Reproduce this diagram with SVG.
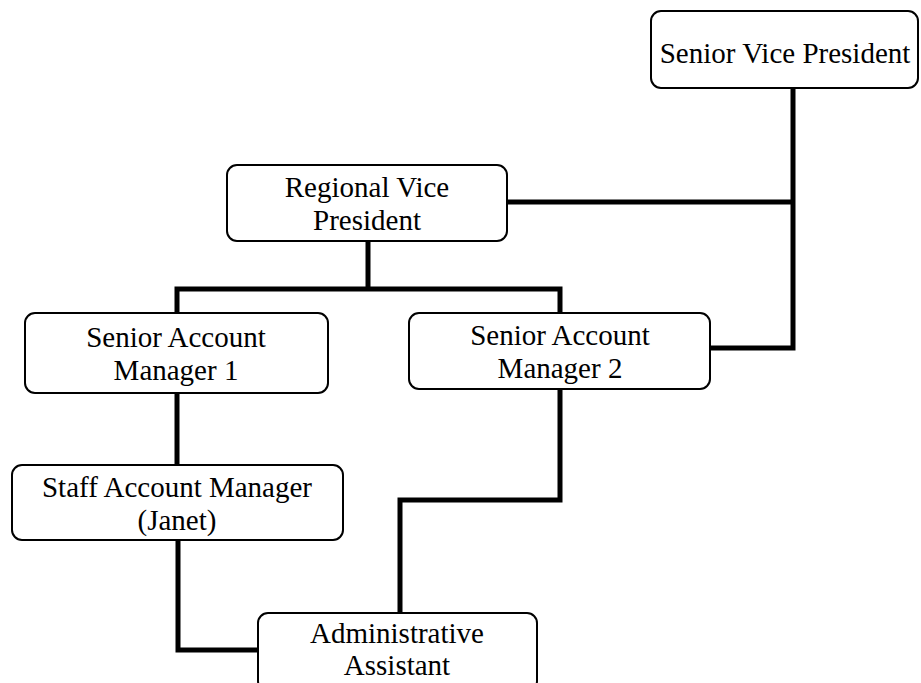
<svg xmlns="http://www.w3.org/2000/svg" width="921" height="683" viewBox="0 0 921 683">
<style>
.box{fill:#fff;stroke:#000;stroke-width:2}
.lbl{font-family:"Liberation Serif","Times New Roman",serif;font-size:29px;fill:#000;text-anchor:middle}
.conn{fill:none;stroke:#000;stroke-width:5;stroke-linejoin:miter;stroke-linecap:butt}
</style>
<rect width="921" height="683" fill="#fff"/>
<g id="connectors">
<path class="conn" d="M793,88 V348 H710"/>
<path class="conn" d="M507,202 H793"/>
<path class="conn" d="M368,241 V289"/>
<path class="conn" d="M177,313 V289 H560 V313"/>
<path class="conn" d="M177,393 V465"/>
<path class="conn" d="M178,540 V650 H258"/>
<path class="conn" d="M560,389 V500 H400 V613"/>
</g>
<g id="svp">
<rect class="box" x="651" y="11" width="267" height="77" rx="10"/>
<text class="lbl" x="785" y="63">Senior Vice President</text>
</g>
<g id="rvp">
<rect class="box" x="227" y="165" width="280" height="76" rx="10"/>
<text class="lbl" x="367" y="197">Regional Vice</text>
<text class="lbl" x="367" y="230">President</text>
</g>
<g id="sam1">
<rect class="box" x="25" y="313" width="303" height="80" rx="10"/>
<text class="lbl" x="176" y="347">Senior Account</text>
<text class="lbl" x="176" y="380">Manager 1</text>
</g>
<g id="sam2">
<rect class="box" x="409" y="313" width="301" height="76" rx="10"/>
<text class="lbl" x="560" y="345">Senior Account</text>
<text class="lbl" x="560" y="378">Manager 2</text>
</g>
<g id="staff">
<rect class="box" x="12" y="465" width="331" height="75" rx="10"/>
<text class="lbl" x="177" y="497">Staff Account Manager</text>
<text class="lbl" x="177" y="530">(Janet)</text>
</g>
<g id="admin">
<rect class="box" x="258" y="613" width="279" height="78" rx="10"/>
<text class="lbl" x="397" y="643">Administrative</text>
<text class="lbl" x="397" y="675">Assistant</text>
</g>
</svg>
